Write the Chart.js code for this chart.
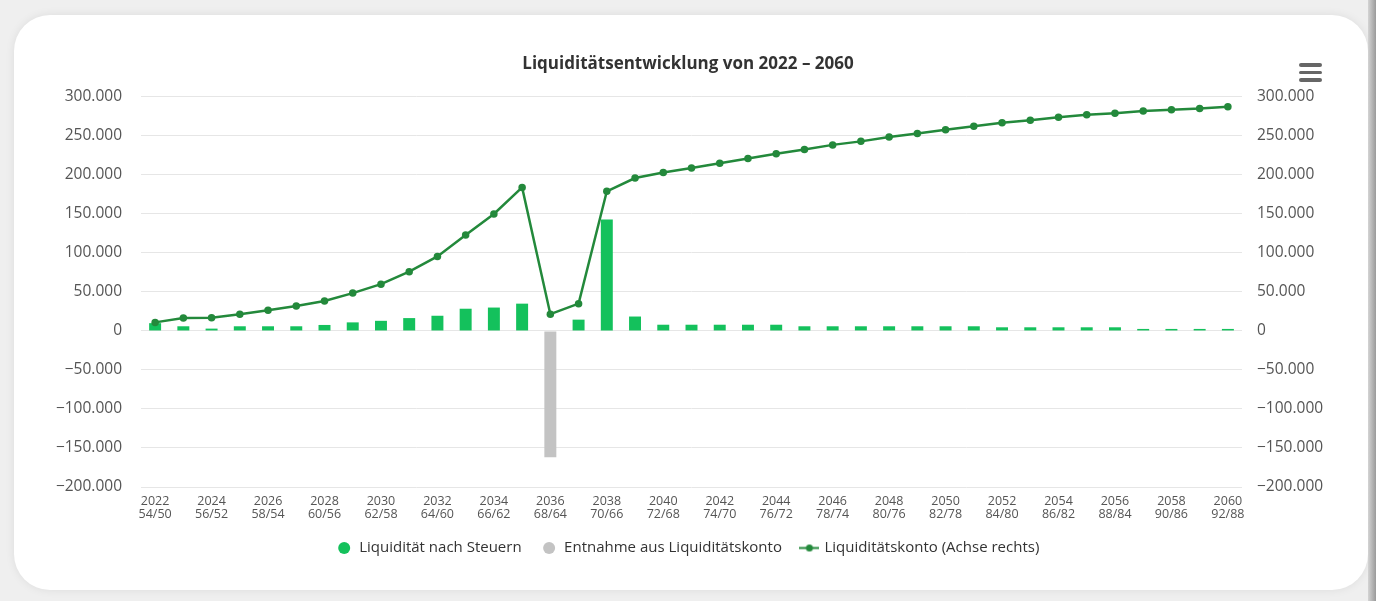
<!DOCTYPE html>
<html>
<head>
<meta charset="utf-8">
<style>
  html, body { margin: 0; padding: 0; background: #efefef; width: 1376px; height: 601px; overflow: hidden; }
  #card { position: absolute; left: 14px; top: 15px; width: 1354px; height: 575px; background: #fff;
          border-radius: 36px; box-shadow: 0 0 10px rgba(0,0,0,0.08); }
  #edge { position: absolute; right: 0; top: 0; width: 8px; height: 601px;
          background: linear-gradient(to right, #d4d4d4, #9a9a9a); }
  #menu { position: absolute; left: 1299px; top: 63px; width: 23px; }
  #menu div { height: 3.5px; background: #666; border-radius: 2px; margin-bottom: 4px; }
  #myChart { position: absolute; left: 0; top: 0; }
</style>
</head>
<body>
<div id="card"></div>
<div id="edge"></div>
<canvas id="myChart" width="1376" height="601"></canvas>
<div id="menu"><div></div><div></div><div></div></div>

<script src="https://cdn.jsdelivr.net/npm/chart.js@4.4.2/dist/chart.umd.min.js"></script>
<script>
  // categories: year + ages of the two persons
  const years = ['2022','2023','2024','2025','2026','2027','2028','2029','2030','2031','2032','2033','2034',
    '2035','2036','2037','2038','2039','2040','2041','2042','2043','2044','2045','2046','2047','2048',
    '2049','2050','2051','2052','2053','2054','2055','2056','2057','2058','2059','2060'];
  const ages = ['54/50','55/51','56/52','57/53','58/54','59/55','60/56','61/57','62/58','63/59','64/60','65/61','66/62',
    '67/63','68/64','69/65','70/66','71/67','72/68','73/69','74/70','75/71','76/72','77/73','78/74','79/75','80/76',
    '81/77','82/78','83/79','84/80','85/81','86/82','87/83','88/84','89/85','90/86','91/87','92/88'];

  // Liquidität nach Steuern (bars, left axis)
  const liquiditaet = [10000, 6000, 3000, 6000, 6000, 6000, 7700, 11000, 13000, 16500, 19500, 28500, 30000,
    35000, 0, 14500, 143000, 18500, 8000, 8000, 8000, 8000, 8000, 6000, 6000, 6000, 6000,
    6000, 6000, 6000, 4700, 4700, 4700, 4700, 4700, 2600, 2600, 2600, 2600];

  // Entnahme aus Liquiditätskonto (bars, left axis)
  const entnahme = [null, null, null, null, null, null, null, null, null, null, null, null, null,
    null, -162000, null, null, null, null, null, null, null, null, null, null, null, null,
    null, null, null, null, null, null, null, null, null, null, null, null];

  // Liquiditätskonto (line, right axis)
  const konto = [11000, 16500, 17000, 21500, 26500, 32000, 38500, 48500, 60000, 76000, 95500, 123000, 150000,
    184000, 21500, 35000, 179000, 196000, 203000, 209000, 215000, 221000, 227000, 232500, 238500, 243000, 248500,
    253000, 258000, 262500, 267000, 270000, 274000, 277000, 279000, 282000, 283500, 285000, 287500];

  const axisMin = -200000;
  const axisMax = 300000;
  const axisStep = 50000;

  const green = '#14c15c';
  const grey = '#c3c3c3';
  const darkGreen = '#23893b';

  Chart.defaults.font.family = '"Open Sans", sans-serif';
  Chart.defaults.color = '#555';

  function fmt(v) {
    const s = Math.abs(v).toString().replace(/\B(?=(\d{3})+(?!\d))/g, '.');
    return (v < 0 ? '\u2212' : '') + s;
  }

  // legend icon for the line series: short line with a dot
  const lineIcon = document.createElement('canvas');
  lineIcon.width = 20;
  lineIcon.height = 9;
  const ic = lineIcon.getContext('2d');
  ic.strokeStyle = darkGreen;
  ic.lineWidth = 2;
  ic.beginPath(); ic.moveTo(0, 4.5); ic.lineTo(20, 4.5); ic.stroke();
  ic.fillStyle = darkGreen;
  ic.beginPath(); ic.arc(10, 4.5, 3.5, 0, Math.PI * 2); ic.fill();

  const labels = years.map((y, i) => [y, ages[i]]);

  const ctx = document.getElementById('myChart');
  const myChart = new Chart(ctx, {
    data: {
      labels: labels,
      datasets: [
        {
          type: 'bar',
          label: 'Liquidität nach Steuern',
          data: liquiditaet,
          backgroundColor: green,
          grouped: false,
          barPercentage: 0.53,
          categoryPercentage: 0.8,
          yAxisID: 'y',
          order: 2
        },
        {
          type: 'bar',
          label: 'Entnahme aus Liquiditätskonto',
          data: entnahme,
          backgroundColor: grey,
          grouped: false,
          barPercentage: 0.53,
          categoryPercentage: 0.8,
          yAxisID: 'y',
          order: 2
        },
        {
          type: 'line',
          label: 'Liquiditätskonto (Achse rechts)',
          data: konto,
          borderColor: darkGreen,
          backgroundColor: darkGreen,
          borderWidth: 2.5,
          pointRadius: 3.75,
          pointBackgroundColor: darkGreen,
          pointBorderWidth: 0,
          tension: 0,
          yAxisID: 'y1',
          order: 1
        }
      ]
    },
    options: {
      responsive: false,
      animation: false,
      layout: { padding: { top: 0, bottom: 35.5, left: 0, right: 0 } },
      plugins: {
        tooltip: { enabled: false },
        title: {
          display: true,
          text: 'Liquiditätsentwicklung von 2022 \u2013 2060',
          color: '#333',
          font: { size: 17, weight: 'bold' },
          padding: { top: 54, bottom: 22.5 }
        },
        legend: {
          position: 'bottom',
          labels: {
            usePointStyle: true,
            boxHeight: 8.5,
            padding: 20,
            color: '#333',
            font: { size: 15 },
            sort: (a, b) => a.datasetIndex - b.datasetIndex,
            generateLabels: function(chart) {
              const items = Chart.defaults.plugins.legend.labels.generateLabels(chart);
              items.forEach(item => {
                if (item.datasetIndex === 2) {
                  item.pointStyle = lineIcon;
                } else {
                  item.pointStyle = 'circle';
                  item.lineWidth = 0;
                }
              });
              return items;
            }
          }
        }
      },
      scales: {
        x: {
          grid: { display: false, drawTicks: false },
          border: { display: false },
          ticks: {
            autoSkip: false,
            maxRotation: 0,
            padding: 8,
            color: '#555',
            font: { size: 12.5, lineHeight: 1.05 },
            callback: function(value, index) {
              return index % 2 === 0 ? this.getLabelForValue(value) : '';
            }
          },
          afterFit: scale => { scale.height = 33.5; }
        },
        y: {
          position: 'left',
          min: axisMin,
          max: axisMax,
          grid: { color: '#e6e6e6', drawTicks: false },
          border: { display: false },
          ticks: {
            stepSize: axisStep,
            padding: 19,
            color: '#555',
            font: { size: 15.5 },
            callback: v => fmt(v)
          },
          afterFit: scale => { scale.width = 141; }
        },
        y1: {
          position: 'right',
          min: axisMin,
          max: axisMax,
          grid: { display: false, drawTicks: false },
          border: { display: false },
          ticks: {
            stepSize: axisStep,
            padding: 15,
            color: '#555',
            font: { size: 15.5 },
            callback: v => fmt(v)
          },
          afterFit: scale => { scale.width = 134; }
        }
      }
    }
  });
</script>
</body>
</html>
